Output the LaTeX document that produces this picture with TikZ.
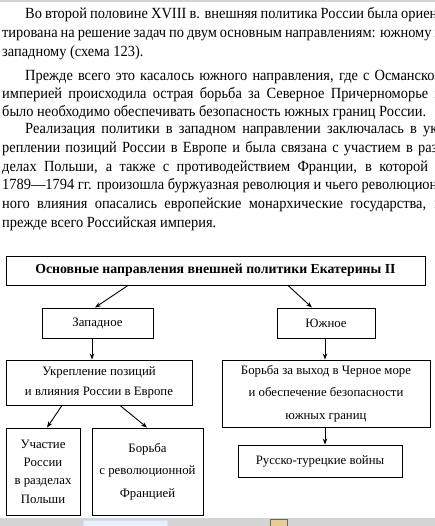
\documentclass[tikz,border=0pt]{standalone}
\usepackage{fontspec}
\setmainfont{Liberation Serif}
\newfontfamily\bodyfont[FakeStretch=0.93]{Liberation Serif}
\usetikzlibrary{arrows.meta}
\definecolor{barg}{RGB}{212,212,212}
\definecolor{ltblue}{RGB}{232,240,250}
\definecolor{tanbox}{RGB}{230,205,150}
\tikzset{
  box/.style={draw=black, line width=0.9pt, inner sep=0pt, align=center,
    font=\fontsize{12.8}{18.3}\selectfont},
  conn/.style={line width=0.9pt, -{Stealth[length=6pt,width=4.5pt]}},
  bodyline/.style={anchor=base west, inner sep=0pt, font=\bodyfont\fontsize{15.5}{18.6}\selectfont}
}
\begin{document}
\begin{tikzpicture}[x=1pt,y=-1pt]
\useasboundingbox (0,0) rectangle (435,526);
\fill[white] (0,0) rectangle (435,526);
\begin{scope}
\clip (0,0) rectangle (435,526);
% top gray strip
\fill[barg] (0,0) rectangle (435,2);
% body text
\node[bodyline] (l1) at (25,19) {\makebox[417pt][s]{Во второй половине XVIII в. внешняя политика России была ориен-}};
\node[bodyline] (l2) at (2,38) {\makebox[440pt][s]{тирована на решение задач по двум основным направлениям: южному и}};
\node[bodyline] (l3) at (2,57) {западному (схема 123).};
\node[bodyline] (l4) at (25,81) {\makebox[417pt][s]{Прежде всего это касалось южного направления, где с Османской}};
\node[bodyline] (l5) at (2,99) {\makebox[440pt][s]{империей происходила острая борьба за Северное Причерноморье и}};
\node[bodyline] (l6) at (2,117) {было необходимо обеспечивать безопасность южных границ России.};
\node[bodyline] (l7) at (25,134) {\makebox[417pt][s]{Реализация политики в западном направлении заключалась в ук-}};
\node[bodyline] (l8) at (2,153) {\makebox[440pt][s]{реплении позиций России в Европе и была связана с участием в раз-}};
\node[bodyline] (l9) at (2,172) {\makebox[440pt][s]{делах Польши, а также с противодействием Франции, в которой в}};
\node[bodyline] (l10) at (2,190) {\makebox[440pt][s]{1789—1794 гг. произошла буржуазная революция и чьего революцион-}};
\node[bodyline] (l11) at (2,209) {\makebox[440pt][s]{ного влияния опасались европейские монархические государства, и}};
\node[bodyline] (l12) at (2,227) {прежде всего Российская империя.};
% diagram
\node[box, minimum width=419pt, minimum height=29pt, font=\fontsize{13.8}{16}\selectfont\bfseries] (title) at (215.5,270.5) {Основные направления внешней политики Екатерины II};
\node[box, minimum width=111pt, minimum height=30pt] (zap) at (97.5,323) {Западное};
\node[box, minimum width=98pt, minimum height=30pt] (yuz) at (326,323) {Южное};
\node[box, minimum width=186pt, minimum height=45pt] (ukr) at (99,382.5) {Укрепление позиций\\[1.5pt]и влияния России в Европе};
\node[box, minimum width=208pt, minimum height=67pt] (bor) at (326,393.5) {Борьба за выход в Черное море\\[4pt]и обеспечение безопасности\\[4pt]южных границ};
\node[box, minimum width=164pt, minimum height=32pt] (rus) at (320,461) {Русско-турецкие войны};
\node[box, minimum width=74pt, minimum height=87pt] (uch) at (43,471.5) {Участие\\России\\в разделах\\Польши};
\node[box, minimum width=111pt, minimum height=87pt] (brf) at (147.5,471.5) {Борьба\\[4pt]с революционной\\[4pt]Францией};
% connectors
\draw[conn] ([xshift=-87.5pt]title.south) -- ([xshift=-2.5pt]zap.north);
\draw[conn] ([xshift=72.5pt]title.south) -- ([xshift=-14pt]yuz.north);
\draw[conn] ([xshift=-5.5pt]zap.south) -- ([xshift=-5.5pt]zap.south |- ukr.north);
\draw[conn] ([xshift=-1pt]yuz.south) -- ([xshift=-1pt]yuz.south |- bor.north);
\draw[conn] ([xshift=-1pt]bor.south) -- ([xshift=-1pt]bor.south |- rus.north);
\draw[conn] ([xshift=-37pt]ukr.south) -- ([xshift=4pt]uch.north);
\draw[conn] ([xshift=21pt]ukr.south) -- ([xshift=-0.5pt]brf.north);
% bottom gray strip
\fill[barg] (0,518) rectangle (435,526);
\filldraw[fill=ltblue, draw=ltblue!70!blue!40] (83,520) rectangle (167,527);
\filldraw[fill=tanbox, draw=black!60] (270,519) rectangle (287,527);
\end{scope}
\end{tikzpicture}
\end{document}
